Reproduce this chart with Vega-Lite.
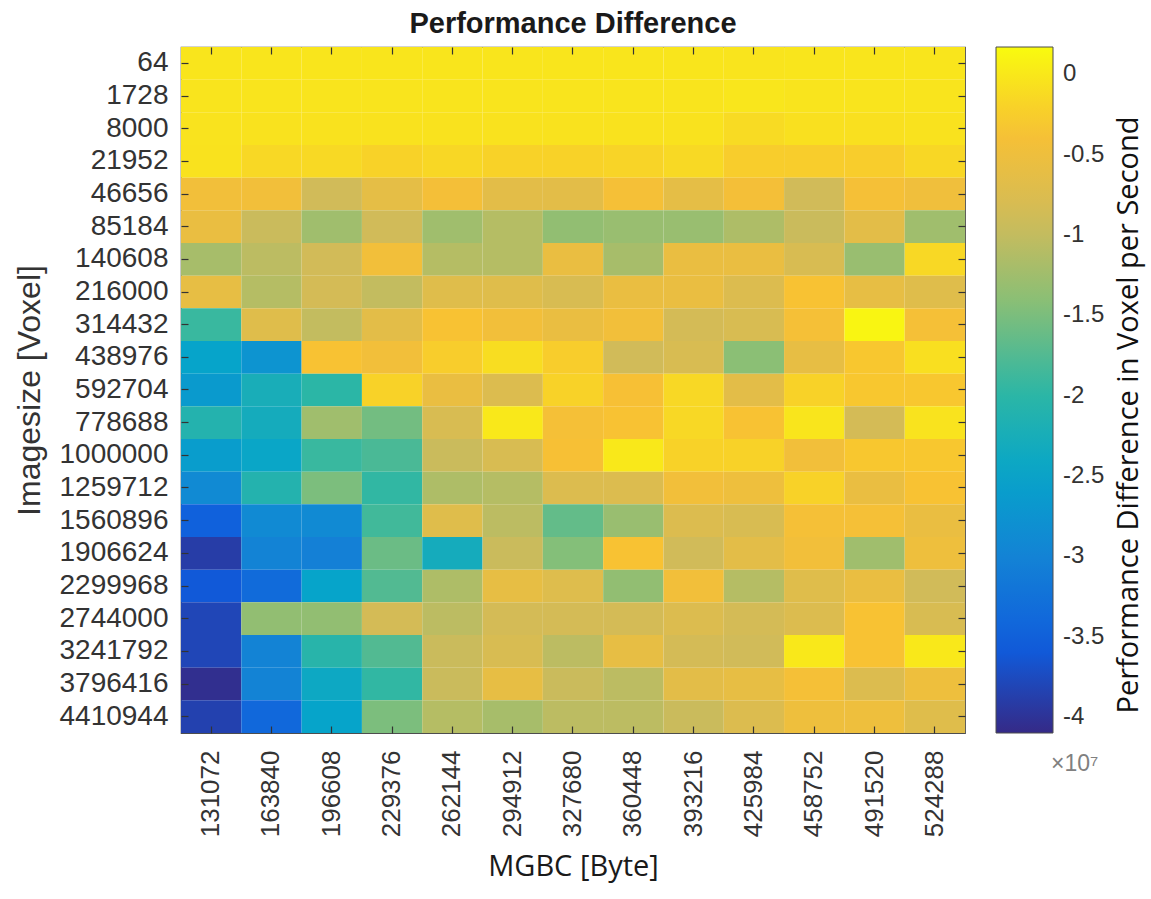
{
  "$schema": "https://vega.github.io/schema/vega-lite/v6.json",
  "width": 784,
  "height": 686,
  "autosize": {"type": "none"},
  "padding": {"left": 181, "top": 47, "right": 186, "bottom": 166},
  "background": "white",
  "title": {"text": "Performance Difference", "fontSize": 29, "font": "Liberation Sans", "fontWeight": "bold", "color": "#1a1a1a", "offset": 7, "anchor": "middle"},
  "config": {"view": {"stroke": "#4d4d4d", "strokeWidth": 1.2}},
  "datasets": {
    "cells": [
{"s":"64","m":"131072","v":-0.03},{"s":"64","m":"163840","v":-0.03},{"s":"64","m":"196608","v":-0.03},{"s":"64","m":"229376","v":-0.03},{"s":"64","m":"262144","v":-0.03},{"s":"64","m":"294912","v":-0.03},{"s":"64","m":"327680","v":-0.03},{"s":"64","m":"360448","v":-0.03},{"s":"64","m":"393216","v":-0.03},{"s":"64","m":"425984","v":-0.04},{"s":"64","m":"458752","v":-0.03},{"s":"64","m":"491520","v":-0.03},{"s":"64","m":"524288","v":-0.03},
{"s":"1728","m":"131072","v":-0.04},{"s":"1728","m":"163840","v":-0.04},{"s":"1728","m":"196608","v":-0.04},{"s":"1728","m":"229376","v":-0.04},{"s":"1728","m":"262144","v":-0.04},{"s":"1728","m":"294912","v":-0.04},{"s":"1728","m":"327680","v":-0.04},{"s":"1728","m":"360448","v":-0.04},{"s":"1728","m":"393216","v":-0.04},{"s":"1728","m":"425984","v":-0.02},{"s":"1728","m":"458752","v":-0.04},{"s":"1728","m":"491520","v":-0.04},{"s":"1728","m":"524288","v":-0.04},
{"s":"8000","m":"131072","v":-0.05},{"s":"8000","m":"163840","v":-0.06},{"s":"8000","m":"196608","v":-0.06},{"s":"8000","m":"229376","v":-0.06},{"s":"8000","m":"262144","v":-0.06},{"s":"8000","m":"294912","v":-0.06},{"s":"8000","m":"327680","v":-0.06},{"s":"8000","m":"360448","v":-0.06},{"s":"8000","m":"393216","v":-0.06},{"s":"8000","m":"425984","v":-0.12},{"s":"8000","m":"458752","v":-0.07},{"s":"8000","m":"491520","v":-0.07},{"s":"8000","m":"524288","v":-0.06},
{"s":"21952","m":"131072","v":-0.06},{"s":"21952","m":"163840","v":-0.15},{"s":"21952","m":"196608","v":-0.14},{"s":"21952","m":"229376","v":-0.2},{"s":"21952","m":"262144","v":-0.16},{"s":"21952","m":"294912","v":-0.2},{"s":"21952","m":"327680","v":-0.2},{"s":"21952","m":"360448","v":-0.18},{"s":"21952","m":"393216","v":-0.14},{"s":"21952","m":"425984","v":-0.25},{"s":"21952","m":"458752","v":-0.25},{"s":"21952","m":"491520","v":-0.25},{"s":"21952","m":"524288","v":-0.16},
{"s":"46656","m":"131072","v":-0.45},{"s":"46656","m":"163840","v":-0.45},{"s":"46656","m":"196608","v":-0.9},{"s":"46656","m":"229376","v":-0.62},{"s":"46656","m":"262144","v":-0.42},{"s":"46656","m":"294912","v":-0.65},{"s":"46656","m":"327680","v":-0.65},{"s":"46656","m":"360448","v":-0.4},{"s":"46656","m":"393216","v":-0.62},{"s":"46656","m":"425984","v":-0.42},{"s":"46656","m":"458752","v":-0.9},{"s":"46656","m":"491520","v":-0.4},{"s":"46656","m":"524288","v":-0.48},
{"s":"85184","m":"131072","v":-0.55},{"s":"85184","m":"163840","v":-0.95},{"s":"85184","m":"196608","v":-1.25},{"s":"85184","m":"229376","v":-0.9},{"s":"85184","m":"262144","v":-1.25},{"s":"85184","m":"294912","v":-1.1},{"s":"85184","m":"327680","v":-1.35},{"s":"85184","m":"360448","v":-1.3},{"s":"85184","m":"393216","v":-1.3},{"s":"85184","m":"425984","v":-1.15},{"s":"85184","m":"458752","v":-0.95},{"s":"85184","m":"491520","v":-0.65},{"s":"85184","m":"524288","v":-1.25},
{"s":"140608","m":"131072","v":-1.2},{"s":"140608","m":"163840","v":-1.05},{"s":"140608","m":"196608","v":-0.88},{"s":"140608","m":"229376","v":-0.45},{"s":"140608","m":"262144","v":-1.1},{"s":"140608","m":"294912","v":-1.1},{"s":"140608","m":"327680","v":-0.55},{"s":"140608","m":"360448","v":-1.2},{"s":"140608","m":"393216","v":-0.55},{"s":"140608","m":"425984","v":-0.55},{"s":"140608","m":"458752","v":-0.8},{"s":"140608","m":"491520","v":-1.3},{"s":"140608","m":"524288","v":-0.15},
{"s":"216000","m":"131072","v":-0.6},{"s":"216000","m":"163840","v":-1.1},{"s":"216000","m":"196608","v":-0.85},{"s":"216000","m":"229376","v":-1.0},{"s":"216000","m":"262144","v":-0.7},{"s":"216000","m":"294912","v":-0.7},{"s":"216000","m":"327680","v":-0.8},{"s":"216000","m":"360448","v":-0.55},{"s":"216000","m":"393216","v":-0.55},{"s":"216000","m":"425984","v":-0.75},{"s":"216000","m":"458752","v":-0.35},{"s":"216000","m":"491520","v":-0.6},{"s":"216000","m":"524288","v":-0.7},
{"s":"314432","m":"131072","v":-1.9},{"s":"314432","m":"163840","v":-0.7},{"s":"314432","m":"196608","v":-1.0},{"s":"314432","m":"229376","v":-0.65},{"s":"314432","m":"262144","v":-0.35},{"s":"314432","m":"294912","v":-0.45},{"s":"314432","m":"327680","v":-0.55},{"s":"314432","m":"360448","v":-0.45},{"s":"314432","m":"393216","v":-0.85},{"s":"314432","m":"425984","v":-0.8},{"s":"314432","m":"458752","v":-0.4},{"s":"314432","m":"491520","v":0.12},{"s":"314432","m":"524288","v":-0.4},
{"s":"438976","m":"131072","v":-2.5},{"s":"438976","m":"163840","v":-2.75},{"s":"438976","m":"196608","v":-0.35},{"s":"438976","m":"229376","v":-0.45},{"s":"438976","m":"262144","v":-0.25},{"s":"438976","m":"294912","v":-0.1},{"s":"438976","m":"327680","v":-0.25},{"s":"438976","m":"360448","v":-0.9},{"s":"438976","m":"393216","v":-0.8},{"s":"438976","m":"425984","v":-1.4},{"s":"438976","m":"458752","v":-0.6},{"s":"438976","m":"491520","v":-0.3},{"s":"438976","m":"524288","v":-0.08},
{"s":"592704","m":"131072","v":-2.65},{"s":"592704","m":"163840","v":-2.25},{"s":"592704","m":"196608","v":-2.0},{"s":"592704","m":"229376","v":-0.2},{"s":"592704","m":"262144","v":-0.55},{"s":"592704","m":"294912","v":-0.75},{"s":"592704","m":"327680","v":-0.2},{"s":"592704","m":"360448","v":-0.38},{"s":"592704","m":"393216","v":-0.15},{"s":"592704","m":"425984","v":-0.65},{"s":"592704","m":"458752","v":-0.2},{"s":"592704","m":"491520","v":-0.3},{"s":"592704","m":"524288","v":-0.3},
{"s":"778688","m":"131072","v":-2.1},{"s":"778688","m":"163840","v":-2.3},{"s":"778688","m":"196608","v":-1.25},{"s":"778688","m":"229376","v":-1.55},{"s":"778688","m":"262144","v":-0.8},{"s":"778688","m":"294912","v":0.0},{"s":"778688","m":"327680","v":-0.4},{"s":"778688","m":"360448","v":-0.35},{"s":"778688","m":"393216","v":-0.15},{"s":"778688","m":"425984","v":-0.35},{"s":"778688","m":"458752","v":-0.03},{"s":"778688","m":"491520","v":-0.85},{"s":"778688","m":"524288","v":-0.05},
{"s":"1000000","m":"131072","v":-2.6},{"s":"1000000","m":"163840","v":-2.45},{"s":"1000000","m":"196608","v":-1.9},{"s":"1000000","m":"229376","v":-1.8},{"s":"1000000","m":"262144","v":-0.95},{"s":"1000000","m":"294912","v":-0.8},{"s":"1000000","m":"327680","v":-0.38},{"s":"1000000","m":"360448","v":0.0},{"s":"1000000","m":"393216","v":-0.2},{"s":"1000000","m":"425984","v":-0.2},{"s":"1000000","m":"458752","v":-0.45},{"s":"1000000","m":"491520","v":-0.3},{"s":"1000000","m":"524288","v":-0.3},
{"s":"1259712","m":"131072","v":-2.9},{"s":"1259712","m":"163840","v":-2.1},{"s":"1259712","m":"196608","v":-1.5},{"s":"1259712","m":"229376","v":-1.95},{"s":"1259712","m":"262144","v":-1.15},{"s":"1259712","m":"294912","v":-1.1},{"s":"1259712","m":"327680","v":-0.75},{"s":"1259712","m":"360448","v":-0.75},{"s":"1259712","m":"393216","v":-0.45},{"s":"1259712","m":"425984","v":-0.5},{"s":"1259712","m":"458752","v":-0.2},{"s":"1259712","m":"491520","v":-0.55},{"s":"1259712","m":"524288","v":-0.35},
{"s":"1560896","m":"131072","v":-3.5},{"s":"1560896","m":"163840","v":-2.9},{"s":"1560896","m":"196608","v":-2.9},{"s":"1560896","m":"229376","v":-1.85},{"s":"1560896","m":"262144","v":-0.7},{"s":"1560896","m":"294912","v":-1.05},{"s":"1560896","m":"327680","v":-1.65},{"s":"1560896","m":"360448","v":-1.3},{"s":"1560896","m":"393216","v":-0.75},{"s":"1560896","m":"425984","v":-0.8},{"s":"1560896","m":"458752","v":-0.4},{"s":"1560896","m":"491520","v":-0.4},{"s":"1560896","m":"524288","v":-0.55},
{"s":"1906624","m":"131072","v":-3.9},{"s":"1906624","m":"163840","v":-3.0},{"s":"1906624","m":"196608","v":-3.05},{"s":"1906624","m":"229376","v":-1.6},{"s":"1906624","m":"262144","v":-2.3},{"s":"1906624","m":"294912","v":-0.95},{"s":"1906624","m":"327680","v":-1.45},{"s":"1906624","m":"360448","v":-0.35},{"s":"1906624","m":"393216","v":-0.9},{"s":"1906624","m":"425984","v":-0.65},{"s":"1906624","m":"458752","v":-0.45},{"s":"1906624","m":"491520","v":-1.25},{"s":"1906624","m":"524288","v":-0.5},
{"s":"2299968","m":"131072","v":-3.6},{"s":"2299968","m":"163840","v":-3.35},{"s":"2299968","m":"196608","v":-2.5},{"s":"2299968","m":"229376","v":-1.75},{"s":"2299968","m":"262144","v":-1.15},{"s":"2299968","m":"294912","v":-0.6},{"s":"2299968","m":"327680","v":-0.72},{"s":"2299968","m":"360448","v":-1.35},{"s":"2299968","m":"393216","v":-0.45},{"s":"2299968","m":"425984","v":-1.1},{"s":"2299968","m":"458752","v":-0.7},{"s":"2299968","m":"491520","v":-0.55},{"s":"2299968","m":"524288","v":-0.9},
{"s":"2744000","m":"131072","v":-3.8},{"s":"2744000","m":"163840","v":-1.35},{"s":"2744000","m":"196608","v":-1.35},{"s":"2744000","m":"229376","v":-0.85},{"s":"2744000","m":"262144","v":-1.05},{"s":"2744000","m":"294912","v":-0.85},{"s":"2744000","m":"327680","v":-0.85},{"s":"2744000","m":"360448","v":-0.85},{"s":"2744000","m":"393216","v":-0.75},{"s":"2744000","m":"425984","v":-0.85},{"s":"2744000","m":"458752","v":-0.75},{"s":"2744000","m":"491520","v":-0.35},{"s":"2744000","m":"524288","v":-0.8},
{"s":"3241792","m":"131072","v":-3.8},{"s":"3241792","m":"163840","v":-3.0},{"s":"3241792","m":"196608","v":-2.05},{"s":"3241792","m":"229376","v":-1.75},{"s":"3241792","m":"262144","v":-0.95},{"s":"3241792","m":"294912","v":-0.8},{"s":"3241792","m":"327680","v":-1.05},{"s":"3241792","m":"360448","v":-0.6},{"s":"3241792","m":"393216","v":-0.85},{"s":"3241792","m":"425984","v":-0.9},{"s":"3241792","m":"458752","v":0.0},{"s":"3241792","m":"491520","v":-0.35},{"s":"3241792","m":"524288","v":0.0},
{"s":"3796416","m":"131072","v":-4.05},{"s":"3796416","m":"163840","v":-3.0},{"s":"3796416","m":"196608","v":-2.4},{"s":"3796416","m":"229376","v":-1.95},{"s":"3796416","m":"262144","v":-0.95},{"s":"3796416","m":"294912","v":-0.6},{"s":"3796416","m":"327680","v":-0.95},{"s":"3796416","m":"360448","v":-1.05},{"s":"3796416","m":"393216","v":-0.65},{"s":"3796416","m":"425984","v":-0.6},{"s":"3796416","m":"458752","v":-0.4},{"s":"3796416","m":"491520","v":-0.75},{"s":"3796416","m":"524288","v":-0.5},
{"s":"4410944","m":"131072","v":-3.85},{"s":"4410944","m":"163840","v":-3.4},{"s":"4410944","m":"196608","v":-2.5},{"s":"4410944","m":"229376","v":-1.5},{"s":"4410944","m":"262144","v":-1.1},{"s":"4410944","m":"294912","v":-1.2},{"s":"4410944","m":"327680","v":-1.05},{"s":"4410944","m":"360448","v":-1.05},{"s":"4410944","m":"393216","v":-0.95},{"s":"4410944","m":"425984","v":-0.75},{"s":"4410944","m":"458752","v":-0.5},{"s":"4410944","m":"491520","v":-0.5},{"s":"4410944","m":"524288","v":-0.7}
    ]
  },
  "data": {"name": "cells"},
  "layer": [
    {
      "mark": {"type": "rect"},
      "encoding": {
        "x": {
          "field": "m", "type": "ordinal",
          "sort": ["131072","163840","196608","229376","262144","294912","327680","360448","393216","425984","458752","491520","524288"],
          "scale": {"paddingInner": 0, "paddingOuter": 0},
          "axis": {"orient": "bottom", "title": "MGBC [Byte]", "labelAngle": -90, "labelAlign": "right", "labelBaseline": "middle",
                   "labelFont": "Liberation Sans", "labelFontSize": 26, "labelColor": "#333333", "tickSize": -7, "tickColor": "#333333", "tickWidth": 1.2,
                   "domain": false, "labelPadding": 24, "titleFont": "Open Sans", "titleFontSize": 29, "titleFontWeight": "normal", "titleColor": "#1a1a1a", "titlePadding": 16}
        },
        "y": {
          "field": "s", "type": "ordinal",
          "sort": ["64","1728","8000","21952","46656","85184","140608","216000","314432","438976","592704","778688","1000000","1259712","1560896","1906624","2299968","2744000","3241792","3796416","4410944"],
          "scale": {"paddingInner": 0, "paddingOuter": 0},
          "axis": {"orient": "left", "title": "Imagesize [Voxel]", "labelFont": "Liberation Sans", "labelFontSize": 28, "labelColor": "#333333",
                   "tickSize": -7, "tickColor": "#333333", "tickWidth": 1.2, "domain": false, "labelPadding": 20,
                   "titleFont": "Liberation Sans", "titleFontSize": 32, "titleFontWeight": "normal", "titleColor": "#333333", "titlePadding": 12}
        },
        "color": {
          "field": "v", "type": "quantitative",
          "scale": {"domain": [-4.1, 0.17], "range": ["#352a87","#0f5cdd","#1481d6","#06a4ca","#2eb7a4","#87bf77","#d1bb59","#f8c034","#f9fb0e"], "interpolate": "rgb"},
          "legend": {
            "title": "Performance Difference in Voxel per Second",
            "titleOrient": "right", "titleAnchor": "middle", "titleLimit": 1000,
            "titleFont": "Open Sans", "titleFontSize": 29, "titleFontWeight": "normal", "titleColor": "#111111", "titlePadding": 11,
            "gradientLength": 686, "gradientThickness": 57, "gradientStrokeColor": "#4d4d4d", "gradientStrokeWidth": 1,
            "values": [0, -0.5, -1, -1.5, -2, -2.5, -3, -3.5, -4, -4.37],
            "labelExpr": "datum.value < -4.2 ? '×10⁷' : '' + datum.value",
            "labelFont": "Liberation Sans", "labelFontSize": 24, "labelColor": "#333333", "labelOffset": 10, "labelAlign": "left", "labelOverlap": false,
            "offset": 30,
            "encode": {
              "title": {"update": {"angle": {"value": -90}, "baseline": {"value": "top"}, "align": {"value": "center"}, "dx": {"value": -25}}},
              "labels": {"update": {"fontSize": {"signal": "datum.value < -4.2 ? 23 : 24"}, "fill": {"signal": "datum.value < -4.2 ? '#808080' : '#333333'"}, "dx": {"signal": "datum.value < -4.2 ? -12 : 0"}}}
            }
          }
        }
      }
    },
    {
      "mark": {"type": "rect", "opacity": 0},
      "encoding": {
        "x": {
          "field": "m", "type": "ordinal",
          "sort": ["131072","163840","196608","229376","262144","294912","327680","360448","393216","425984","458752","491520","524288"],
          "axis": {"orient": "top", "title": null, "labels": false, "domain": false, "tickSize": -7, "tickColor": "#333333", "tickWidth": 1.2}
        },
        "y": {
          "field": "s", "type": "ordinal",
          "sort": ["64","1728","8000","21952","46656","85184","140608","216000","314432","438976","592704","778688","1000000","1259712","1560896","1906624","2299968","2744000","3241792","3796416","4410944"],
          "axis": {"orient": "right", "title": null, "labels": false, "domain": false, "tickSize": -7, "tickColor": "#333333", "tickWidth": 1.2}
        }
      }
    }
  ],
  "resolve": {"axis": {"x": "independent", "y": "independent"}}
}
